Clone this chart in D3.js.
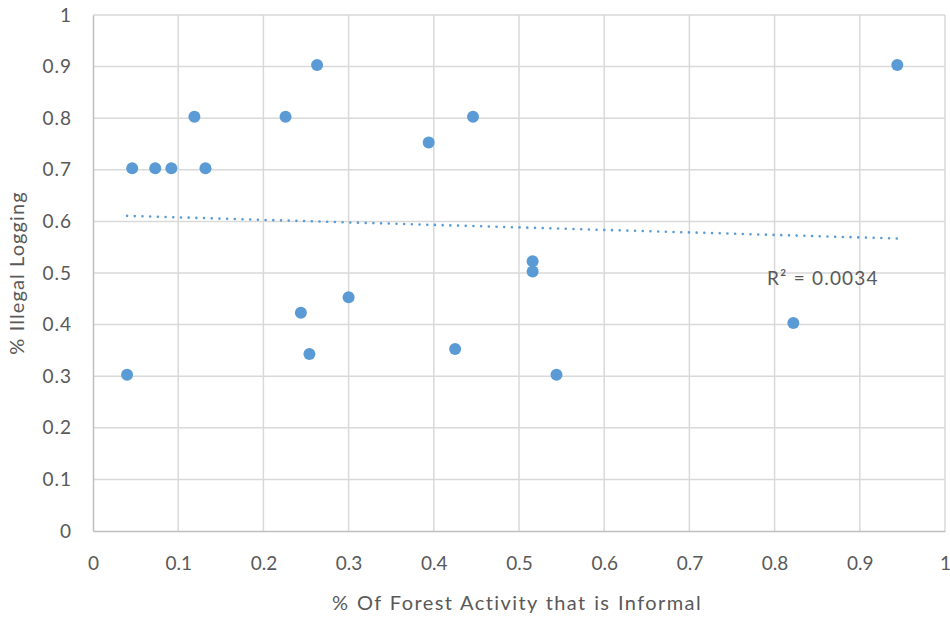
<!DOCTYPE html>
<html>
<head>
<meta charset="utf-8">
<script src="https://cdn.jsdelivr.net/npm/d3@7"></script>
<style>
  body { margin: 0; background: #fff; }
  text { font-family: Lato, "Open Sans", sans-serif; fill: #595959; }
</style>
</head>
<body>
<svg id="chart" width="950" height="617"></svg>
<script>
// values
var informal = [0.04, 0.046, 0.073, 0.092, 0.119, 0.132, 0.226, 0.263, 0.244, 0.254,
                0.30, 0.394, 0.446, 0.425, 0.516, 0.516, 0.544, 0.822, 0.944];
var illegal = [0.3, 0.7, 0.7, 0.7, 0.8, 0.7, 0.8, 0.9, 0.42, 0.34,
               0.45, 0.75, 0.8, 0.35, 0.52, 0.5, 0.3, 0.4, 0.9];
var xTicks = [0, 0.1, 0.2, 0.3, 0.4, 0.5, 0.6, 0.7, 0.8, 0.9, 1];
var yTicks = [0, 0.1, 0.2, 0.3, 0.4, 0.5, 0.6, 0.7, 0.8, 0.9, 1];
var rSquaredLabel = 'R² = 0.0034';

var svg = d3.select('#chart');

var x = d3.scaleLinear().domain([0, 1]).range([93, 945]);
var y = d3.scaleLinear().domain([0, 1]).range([531, 15]);

// gridlines
svg.append('g').selectAll('line.v')
  .data(xTicks.slice(1))
  .enter().append('line')
  .attr('x1', d => x(d)).attr('x2', d => x(d))
  .attr('y1', y(0)).attr('y2', y(1))
  .style('stroke', '#d9d9d9').style('stroke-width', 1.5);

svg.append('g').selectAll('line.h')
  .data(yTicks.slice(1))
  .enter().append('line')
  .attr('x1', x(0)).attr('x2', x(1))
  .attr('y1', d => y(d)).attr('y2', d => y(d))
  .style('stroke', '#d9d9d9').style('stroke-width', 1.5);

// axes (Excel style, no tick marks)
var xAxis = svg.append('g')
  .attr('transform', 'translate(0,' + y(0) + ')')
  .call(d3.axisBottom(x).tickValues(xTicks).tickSize(0).tickPadding(26).tickFormat(d3.format('')));
var yAxis = svg.append('g')
  .attr('transform', 'translate(' + x(0) + ',0)')
  .call(d3.axisLeft(y).tickValues(yTicks).tickSize(0).tickPadding(21).tickFormat(d3.format('')));

[xAxis, yAxis].forEach(function (a) {
  a.select('.domain').style('stroke', '#bfbfbf').style('stroke-width', 1.5);
  a.selectAll('text').style('font-size', '19px').style('fill', '#595959')
    .style('font-family', 'Lato, sans-serif');
});
yAxis.selectAll('text').style('letter-spacing', '1px');

// linear trendline from least squares
var mx = d3.mean(informal), my = d3.mean(illegal);
var sxy = d3.sum(informal, (v, i) => (v - mx) * (illegal[i] - my));
var sxx = d3.sum(informal, v => (v - mx) * (v - mx));
var slope = sxy / sxx, intercept = my - slope * mx;
var ext = d3.extent(informal);

svg.append('line')
  .attr('x1', x(ext[0])).attr('y1', y(intercept + slope * ext[0]))
  .attr('x2', x(ext[1])).attr('y2', y(intercept + slope * ext[1]))
  .style('stroke', '#5b9bd5')
  .style('stroke-width', 2.6)
  .style('stroke-linecap', 'round')
  .style('stroke-dasharray', '0 7.7');

// markers
svg.append('g').selectAll('circle')
  .data(informal)
  .enter().append('circle')
  .attr('cx', d => x(d))
  .attr('cy', (d, i) => y(illegal[i]) - 1.5)
  .attr('r', 6)
  .style('fill', '#5b9bd5');

svg.append('text')
  .attr('x', 767).attr('y', 285)
  .style('font-size', '19px')
  .style('letter-spacing', '1.2px')
  .text(rSquaredLabel);

// axis titles
svg.append('text')
  .attr('x', 517).attr('y', 610)
  .attr('text-anchor', 'middle')
  .style('font-size', '20px')
  .style('letter-spacing', '1.4px')
  .style('word-spacing', '1px')
  .text('% Of Forest Activity that is Informal');

svg.append('text')
  .attr('transform', 'translate(24,' + 273 + ') rotate(-90)')
  .attr('text-anchor', 'middle')
  .style('font-size', '20px')
  .style('letter-spacing', '1.1px')
  .text('% Illegal Logging');
</script>
</body>
</html>
